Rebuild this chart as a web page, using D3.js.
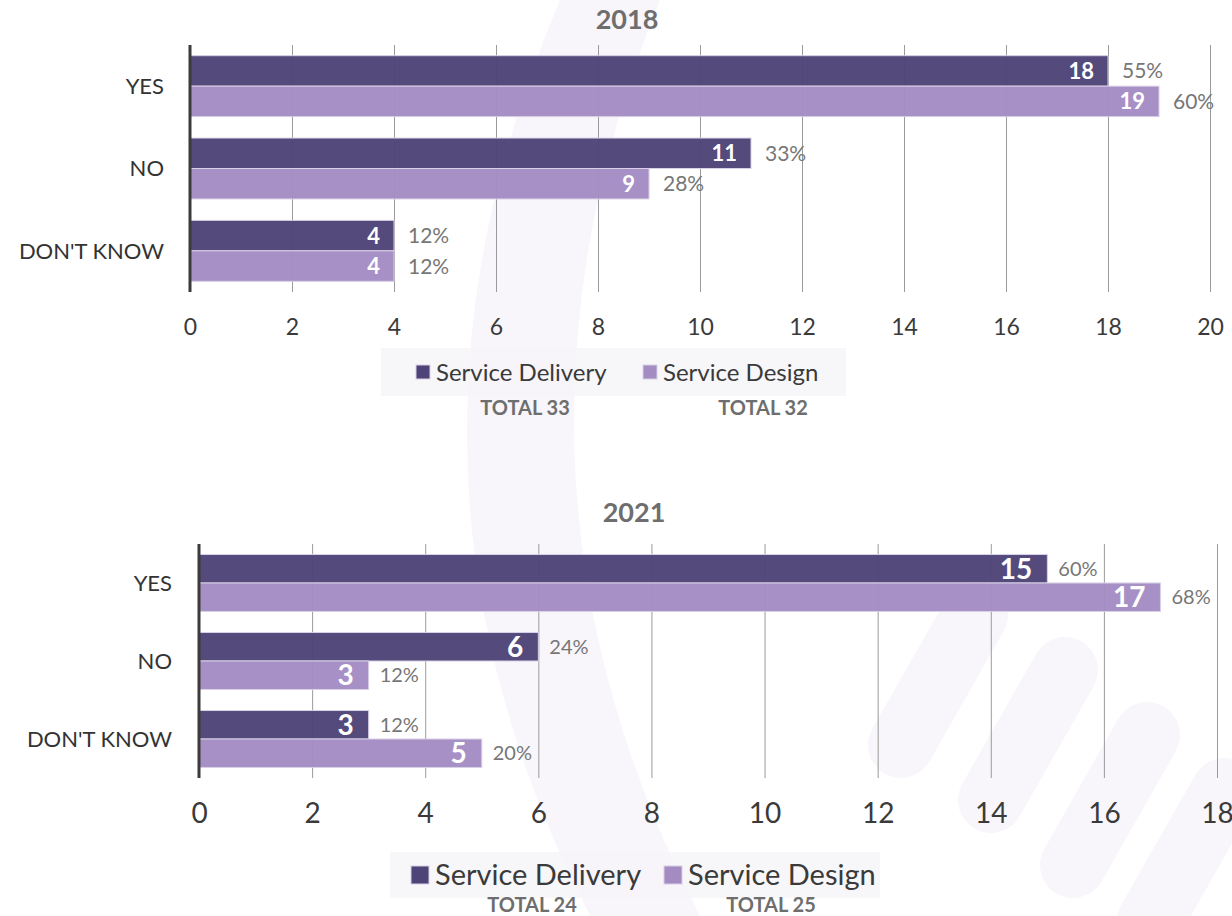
<!DOCTYPE html>
<html>
<head>
<meta charset="utf-8">
<script src="https://cdn.jsdelivr.net/npm/d3@7"></script>
<style>
    body { margin: 0; background: #ffffff; }
    svg { display: block; font-family: Lato, "Open Sans", sans-serif; }
</style>
</head>
<body>
<div id="chart"></div>
<script>
const categories = ["YES", "NO", "DON'T KNOW"];
const seriesNames = ["Service Delivery", "Service Design"];

const delivery2018 = [18, 11, 4];
const design2018 = [19, 9, 4];
const deliveryPct2018 = ["55%", "33%", "12%"];
const designPct2018 = ["60%", "28%", "12%"];
const totals2018 = [33, 32];
const ticks2018 = [0, 2, 4, 6, 8, 10, 12, 14, 16, 18, 20];

const delivery2021 = [15, 6, 3];
const design2021 = [17, 3, 5];
const deliveryPct2021 = ["60%", "24%", "12%"];
const designPct2021 = ["68%", "12%", "20%"];
const totals2021 = [24, 25];
const ticks2021 = [0, 2, 4, 6, 8, 10, 12, 14, 16, 18];

const colors = ["#4e4477", "#a48cc3"];

const svg = d3.select("#chart").append("svg")
    .attr("width", 1232)
    .attr("height", 916);

// faint background watermark
const wmColor = "#f8f6fa";
const wm = svg.append("g").attr("fill", wmColor);
wm.append("path")
    .attr("d", "M 560 0 Q 360 470 590 916 L 700 916 Q 470 470 660 0 Z");
[[901, 745, 975, 615], [991, 800, 1065, 670], [1073, 865, 1147, 735], [1150, 921, 1224, 791]]
    .forEach(function (p) {
        wm.append("line")
            .attr("x1", p[0]).attr("y1", p[1])
            .attr("x2", p[2]).attr("y2", p[3])
            .attr("stroke", wmColor)
            .attr("stroke-width", 66)
            .attr("stroke-linecap", "round");
    });

function renderChart(opts) {
    const g = svg.append("g");

    // rows of [delivery, design] per category
    const rows = categories.map(function (c, i) {
        return {
            cat: c,
            values: [
                {s: seriesNames[0], v: opts.delivery[i], pct: opts.deliveryPct[i]},
                {s: seriesNames[1], v: opts.design[i], pct: opts.designPct[i]}
            ]
        };
    });

    const x = d3.scaleLinear()
        .domain([0, d3.max(opts.ticks)])
        .range([opts.left, opts.right]);

    const y = d3.scaleBand()
        .domain(categories)
        .range([opts.top, opts.bottom])
        .paddingInner(opts.padIn)
        .paddingOuter(opts.padOut);

    const y1 = d3.scaleBand()
        .domain(seriesNames)
        .range([0, y.bandwidth()]);

    // title
    g.append("text")
        .attr("x", opts.titleX)
        .attr("y", opts.titleY)
        .attr("text-anchor", "middle")
        .attr("font-size", opts.titleSize)
        .attr("font-weight", "bold")
        .attr("fill", "#6e6e6e")
        .text(opts.title);

    // grid lines
    const grid = g.append("g")
        .attr("transform", "translate(0," + opts.bottom + ")")
        .call(d3.axisBottom(x).tickValues(opts.ticks).tickSize(-(opts.bottom - opts.top)).tickFormat(""));
    grid.select(".domain").remove();
    grid.selectAll(".tick line").attr("stroke", "#9a9a9a").attr("stroke-width", 1);

    // tick labels
    const axis = g.append("g")
        .attr("transform", "translate(0," + opts.bottom + ")")
        .call(d3.axisBottom(x).tickValues(opts.ticks).tickSize(0).tickPadding(opts.tickPad));
    axis.select(".domain").remove();
    axis.selectAll("text")
        .attr("font-family", "Lato, sans-serif")
        .attr("font-size", opts.tickSize)
        .attr("fill", "#3a3a3a");

    // bars
    const groups = g.selectAll(".cat-" + opts.title)
        .data(rows)
        .enter()
        .append("g")
        .attr("transform", function (d) {
            return "translate(0," + y(d.cat) + ")";
        });

    groups.selectAll("rect")
        .data(function (d) { return d.values; })
        .enter()
        .append("rect")
        .attr("x", x(0))
        .attr("y", function (d) { return y1(d.s); })
        .attr("width", function (d) { return x(d.v) - x(0); })
        .attr("height", y1.bandwidth())
        .attr("fill", function (d, i) { return colors[i]; })
        .attr("fill-opacity", 0.97)
        .attr("stroke", "#d8d0e6")
        .attr("stroke-width", 1);

    groups.selectAll(".val")
        .data(function (d) { return d.values; })
        .enter()
        .append("text")
        .attr("x", function (d) { return x(d.v) - opts.valInset; })
        .attr("y", function (d) { return y1(d.s) + y1.bandwidth() / 2; })
        .attr("dy", "0.36em")
        .attr("text-anchor", "end")
        .attr("font-size", opts.valSize)
        .attr("font-weight", "bold")
        .attr("fill", "#ffffff")
        .text(function (d) { return d.v; });

    groups.selectAll(".pct")
        .data(function (d) { return d.values; })
        .enter()
        .append("text")
        .attr("x", function (d) { return x(d.v) + opts.pctGap; })
        .attr("y", function (d) { return y1(d.s) + y1.bandwidth() / 2; })
        .attr("dy", "0.36em")
        .attr("font-size", opts.pctSize)
        .attr("fill", "#767676")
        .text(function (d) { return d.pct; });

    // category labels
    g.selectAll(".catlabel-" + opts.title)
        .data(categories)
        .enter()
        .append("text")
        .attr("x", opts.catX)
        .attr("y", function (d) { return y(d) + y.bandwidth() / 2; })
        .attr("dy", "0.36em")
        .attr("text-anchor", "end")
        .attr("font-size", opts.catSize)
        .attr("fill", "#333333")
        .text(function (d) { return d; });

    // axis line
    g.append("line")
        .attr("x1", x(0)).attr("x2", x(0))
        .attr("y1", opts.top).attr("y2", opts.bottom)
        .attr("stroke", "#3b3b3b")
        .attr("stroke-width", 3);

    // legend
    const lg = opts.legend;
    g.append("rect")
        .attr("x", lg.x).attr("y", lg.y)
        .attr("width", lg.w).attr("height", lg.h)
        .attr("fill", "#f6f5f8")
        .attr("fill-opacity", 0.9);

    seriesNames.forEach(function (s, i) {
        g.append("rect")
            .attr("x", lg.items[i])
            .attr("y", lg.y + lg.h / 2 - lg.sq / 2)
            .attr("width", lg.sq).attr("height", lg.sq)
            .attr("fill", colors[i])
            .attr("stroke", "#d8d0e6");
        g.append("text")
            .attr("x", lg.items[i] + lg.sq + 6)
            .attr("y", lg.y + lg.h / 2)
            .attr("dy", "0.36em")
            .attr("font-size", lg.size)
            .attr("fill", "#3a3a3a")
            .text(s);
        g.append("text")
            .attr("x", lg.totalX[i])
            .attr("y", lg.totalY)
            .attr("dy", "0.36em")
            .attr("text-anchor", "middle")
            .attr("font-size", lg.totalSize)
            .attr("font-weight", "bold")
            .attr("fill", "#6e6e6e")
            .text("TOTAL " + opts.totals[i]);
    });
}

renderChart({
    title: "2018", titleX: 627, titleY: 29, titleSize: 27,
    delivery: delivery2018, design: design2018,
    deliveryPct: deliveryPct2018, designPct: designPct2018,
    totals: totals2018, ticks: ticks2018,
    left: 190, right: 1210, top: 45, bottom: 292,
    padIn: 0.26, padOut: 0.13,
    tickSize: 23, tickPad: 27,
    valSize: 22, valInset: 14, pctSize: 21, pctGap: 14,
    catX: 164, catSize: 22,
    legend: {x: 381, y: 348, w: 465, h: 48, sq: 14, size: 24,
        items: [416, 643], totalX: [525, 763], totalY: 408, totalSize: 20}
});

renderChart({
    title: "2021", titleX: 634, titleY: 522, titleSize: 27,
    delivery: delivery2021, design: design2021,
    deliveryPct: deliveryPct2021, designPct: designPct2021,
    totals: totals2021, ticks: ticks2021,
    left: 199, right: 1217, top: 544, bottom: 778,
    padIn: 0.27, padOut: 0.135,
    tickSize: 28, tickPad: 25,
    valSize: 28, valInset: 15, pctSize: 20, pctGap: 11,
    catX: 172, catSize: 22,
    legend: {x: 390, y: 852, w: 490, h: 46, sq: 18, size: 29,
        items: [411, 664], totalX: [532, 771], totalY: 905, totalSize: 20}
});
</script>
</body>
</html>
